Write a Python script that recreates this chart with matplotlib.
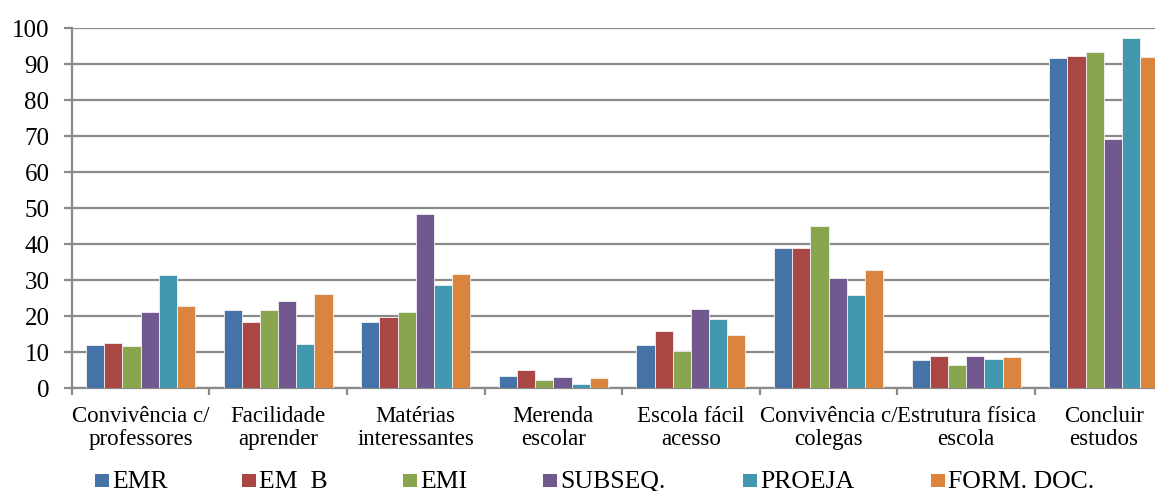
import numpy as np
import matplotlib
matplotlib.use("Agg")
import matplotlib.pyplot as plt
from matplotlib.patches import Rectangle

categories = [
    "Convivência c/\nprofessores",
    "Facilidade\naprender",
    "Matérias\ninteressantes",
    "Merenda\nescolar",
    "Escola fácil\nacesso",
    "Convivência c/\ncolegas",
    "Estrutura física\nescola",
    "Concluir\nestudos",
]
series_names = ["EMR", "EM  B", "EMI", "SUBSEQ.", "PROEJA", "FORM. DOC."]

emr = [12.0, 21.7, 18.5, 3.4, 12.0, 38.9, 7.8, 91.8]
em_b = [12.7, 18.5, 19.7, 5.2, 15.8, 38.9, 9.0, 92.3]
emi = [11.8, 21.8, 21.1, 2.2, 10.3, 45.1, 6.4, 93.5]
subseq = [21.1, 24.3, 48.3, 3.1, 22.1, 30.6, 9.0, 69.3]
proeja = [31.5, 12.3, 28.7, 1.3, 19.2, 25.9, 8.1, 97.3]
form_doc = [22.9, 26.1, 31.8, 2.9, 14.8, 32.9, 8.6, 92.1]

series_values = [emr, em_b, emi, subseq, proeja, form_doc]
colors = ["#4572A7", "#AA4643", "#89A54E", "#71588F", "#4198AF", "#DB843D"]

plt.rcParams["font.family"] = ["Liberation Serif", "DejaVu Serif"]

W, H = 1155, 491
fig = plt.figure(figsize=(W / 100, H / 100), dpi=100)

# axes box in pixel units (left, top, right, bottom); right edge runs past the canvas
x0, y_top, x1, y_bot = 71.7, 28.3, 1172.6, 388.3
ax = fig.add_axes([x0 / W, (H - y_bot) / H, (x1 - x0) / W, (y_bot - y_top) / H])

grid_col = "#8a8a8a"
n = len(series_values)
bw = 0.132
x = np.arange(len(categories))
for i, (vals, c) in enumerate(zip(series_values, colors)):
    off = (i - (n - 1) / 2) * bw
    ax.bar(x + off, vals, width=bw, color=c, edgecolor="#f2f2f2",
           linewidth=0.6, zorder=3)

ax.set_xlim(-0.5, len(categories) - 0.5)
ax.set_ylim(0, 100)
ax.set_yticks(np.arange(0, 101, 10))
ax.yaxis.grid(True, color=grid_col, linewidth=1.6, zorder=0)
ax.set_axisbelow(True)

ax.set_xticks(x)
ax.set_xticklabels(categories, fontsize=16.5, linespacing=1.08)
ax.set_xticks(np.arange(-0.5, len(categories), 1.0), minor=True)
ax.tick_params(axis="x", which="major", length=0, pad=13)
ax.tick_params(axis="x", which="minor", length=5, width=1.6, color=grid_col,
               direction="out")
ax.tick_params(axis="y", length=6, width=1.6, color=grid_col, pad=10,
               labelsize=18)

for s in ["top", "right"]:
    ax.spines[s].set_visible(False)
for s in ["left", "bottom"]:
    ax.spines[s].set_color(grid_col)
    ax.spines[s].set_linewidth(1.6)

# legend row along the bottom edge
legend_x = [95, 242, 403, 543, 743, 931]
sq = 13.8
sq_top = 473.5
for lx, name, c in zip(legend_x, series_names, colors):
    fig.add_artist(Rectangle((lx / W, (H - sq_top - sq) / H), sq / W, sq / H,
                             transform=fig.transFigure, facecolor=c,
                             edgecolor="none"))
    fig.text((lx + sq + 3.5) / W, (H - 488.0) / H, name, fontsize=18.5,
             ha="left", va="baseline", color="black")

fig.savefig("out.png", dpi=100)
